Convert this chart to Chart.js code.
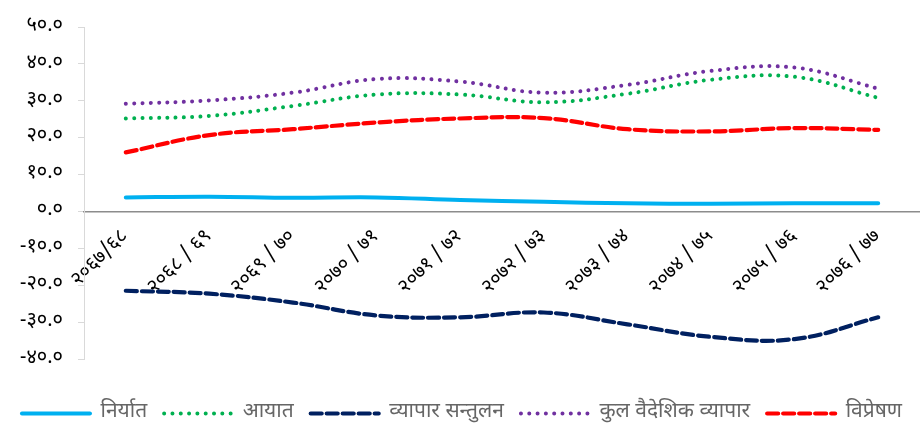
<!DOCTYPE html>
<html>
<head>
<meta charset="utf-8">
<script src="https://cdn.jsdelivr.net/npm/chart.js@4"></script>
<style>
  html, body { margin: 0; padding: 0; background: #fff; }
  #wrap { width: 920px; height: 424px; }
</style>
</head>
<body>
<div id="wrap"><canvas id="chart"></canvas></div>
<script>
const years = ['२०६७/६८', '२०६८ / ६९', '२०६९ / ७०', '२०७० / ७१', '२०७१ / ७२', '२०७२ / ७३', '२०७३ / ७४', '२०७४ / ७५', '२०७५ / ७६', '२०७६ / ७७'];
const exportsData = [3.8, 4.0, 3.7, 3.8, 3.1, 2.6, 2.2, 2.1, 2.2, 2.2];
const importsData = [25.2, 25.9, 28.6, 31.7, 31.7, 29.6, 31.9, 35.7, 36.5, 30.8];
const balanceData = [-21.5, -22.3, -24.7, -28.2, -28.7, -27.4, -30.6, -34.0, -34.6, -28.7];
const totalTradeData = [29.2, 30.1, 32.2, 35.9, 35.2, 32.2, 34.3, 38.1, 39.0, 33.3];
const remittanceData = [16.0, 20.7, 22.3, 24.1, 25.2, 25.3, 22.3, 21.7, 22.6, 22.1];
const seriesNames = ['निर्यात', 'आयात', 'व्यापार सन्तुलन', 'कुल वैदेशिक व्यापार', 'विप्रेषण'];
const devDigits = ['०', '१', '२', '३', '४', '५', '६', '७', '८', '९'];

const FONT = "Mangal, 'Noto Sans Devanagari', 'Lohit Devanagari', 'Noto Sans', sans-serif";

function toDev(str) {
  return String(str).replace(/[0-9]/g, d => devDigits[+d]);
}

function lineSet(label, data, color, dash, width, cap) {
  return {
    label: label,
    data: data,
    borderColor: color,
    backgroundColor: color,
    borderWidth: width,
    borderDash: dash,
    borderCapStyle: cap,
    pointRadius: 0,
    pointHoverRadius: 0,
    tension: 0.4,
    fill: false,
  };
}

const ctx = document.getElementById('chart').getContext('2d');
new Chart(ctx, {
  type: 'line',
  data: {
    labels: years,
    datasets: [
      lineSet(seriesNames[0], exportsData, '#00B0F0', [], 4, 'round'),
      lineSet(seriesNames[1], importsData, '#00B050', [0.01, 8.3], 4, 'round'),
      lineSet(seriesNames[2], balanceData, '#002060', [11, 5], 4.2, 'round'),
      lineSet(seriesNames[3], totalTradeData, '#7030A0', [0.01, 8.3], 4, 'round'),
      lineSet(seriesNames[4], remittanceData, '#FF0000', [11, 5], 4.2, 'round'),
    ],
  },
  options: {
    responsive: true,
    maintainAspectRatio: false,
    animation: false,
    layout: { padding: { top: 5, right: 0, left: 4, bottom: -10 } },
    plugins: {
      tooltip: { enabled: false },
      legend: {
        position: 'bottom',
        // empty title only used as spacer between the plot and the legend
        title: { display: true, text: '', font: { size: 10 }, padding: { top: 7, bottom: 8 } },
        labels: {
          usePointStyle: true,
          pointStyle: 'line',
          pointStyleWidth: 68,
          boxWidth: 68,
          padding: 17,
          color: '#000',
          font: { family: FONT, size: 21 },
          generateLabels: (chart) => chart.data.datasets.map((ds, i) => ({
            text: ds.label,
            datasetIndex: i,
            fillStyle: ds.borderColor,
            strokeStyle: ds.borderColor,
            lineWidth: ds.borderWidth,
            lineDash: ds.borderDash,
            lineCap: ds.borderCapStyle,
            pointStyle: 'line',
            hidden: false,
          })),
        },
      },
    },
    scales: {
      x: {
        position: { y: 0 },
        offset: true,
        grid: { display: false },
        border: { color: '#8c8c8c', width: 1.5 },
        ticks: {
          color: '#000',
          font: { family: FONT, size: 20 },
          minRotation: 45,
          maxRotation: 45,
          padding: 6,
          autoSkip: false,
        },
      },
      y: {
        min: -40,
        max: 50,
        afterFit: (scale) => { scale.width = 80; },
        grid: { drawOnChartArea: false, color: '#d9d9d9', tickLength: 6 },
        border: { color: '#d9d9d9' },
        ticks: {
          stepSize: 10,
          color: '#000',
          padding: 15,
          font: { family: FONT, size: 20 },
          callback: (v) => toDev(v.toFixed(1)),
        },
      },
    },
  },
});
</script>
</body>
</html>
